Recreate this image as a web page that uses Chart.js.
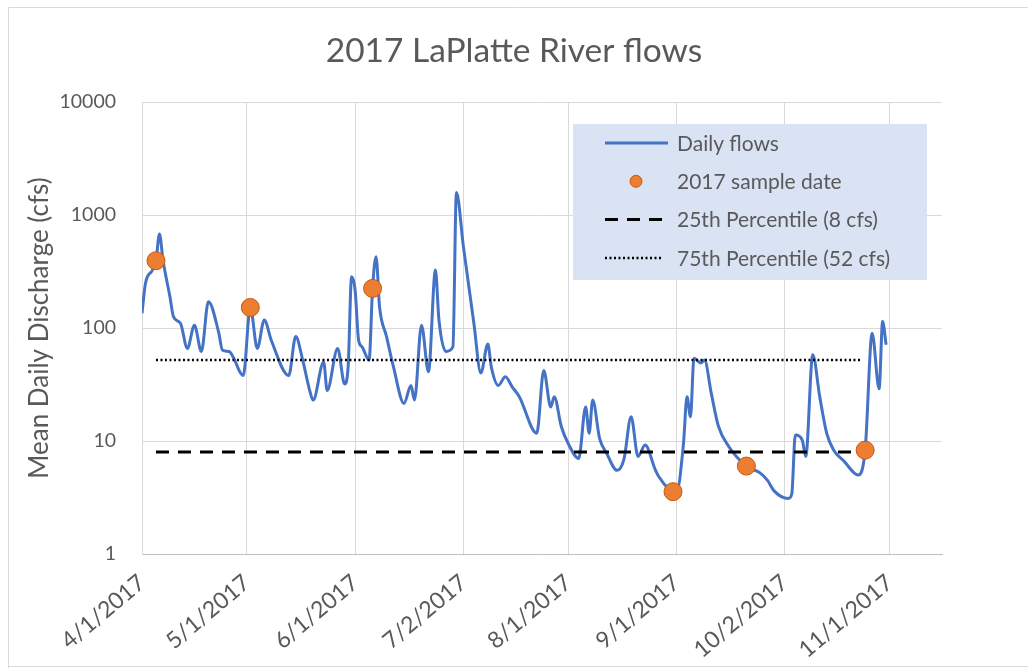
<!DOCTYPE html>
<html>
<head>
<meta charset="utf-8">
<title>2017 LaPlatte River flows</title>
<script src="https://cdn.jsdelivr.net/npm/chart.js@4.4.1/dist/chart.umd.min.js"></script>
<style>
  html, body { margin: 0; padding: 0; background: #ffffff; }
  #wrap { width: 1028px; height: 668px; position: relative; }
</style>
</head>
<body>
<div id="wrap"><canvas id="flows" width="1028" height="668"></canvas></div>
<script>
// Days are counted from 4/1/2017 (day 0).
const flowDays = [
  0, 1, 3, 4, 5, 6, 8, 9, 11, 13, 15, 17, 19, 22, 23, 25, 26, 29, 31, 33,
  35, 37, 42, 44, 46, 48, 49, 52, 53, 56, 58, 59, 60, 61, 62, 63, 65, 66, 67, 68,
  70, 72, 75, 77, 78, 80, 82, 84, 85, 87, 89, 90, 92, 95, 97, 99, 100, 102, 104, 106,
  108, 113, 115, 117, 118, 120, 122, 125, 127, 128, 129, 131, 133, 136, 138, 140, 142, 144, 147, 148,
  151, 152, 153, 155, 156, 157, 158, 160, 161, 163, 165, 168, 173, 177, 179, 181, 185, 186, 187, 189,
  190, 192, 194, 196, 198, 201, 205, 207, 209, 211, 212, 213
];
const flowValues = [
  135, 249, 326, 394, 680, 400, 189, 126, 110, 66, 106, 62, 171, 90, 64, 62, 56, 38, 152, 66,
  118, 78, 38, 84, 52, 28, 23, 50, 28, 66, 32, 45, 284, 217, 78, 68, 52, 224, 428, 154,
  84, 45, 21.5, 31, 23, 106, 41, 326, 118, 62, 68, 1580, 525, 110, 40, 72, 45, 31, 37, 30,
  24.7, 11.7, 42, 20, 24.7, 13.5, 9.5, 7.0, 20, 11.7, 23, 10.5, 7.8, 5.5, 7.0, 16.4, 7.3, 9.2, 5.5, 4.8,
  3.7, 3.56, 3.5, 9.5, 24.7, 16.4, 54, 49, 52, 26, 13.5, 8.9, 6.0, 5.2, 4.5, 3.6, 3.1, 3.4, 11.3, 10.2,
  7.3, 58, 24.7, 11.7, 8.3, 6.6, 5.0, 8.3, 90, 29, 114, 71
];

const sampleDays = [4, 31, 66, 152, 173, 207];
const sampleValues = [394, 152, 224, 3.56, 6.0, 8.3];

const percentile25 = 8;
const percentile75 = 52;
const percentileSpan = [4, 206];

const tickDays = [0, 30, 61, 92, 122, 153, 184, 214];
const tickLabels = ['4/1/2017', '5/1/2017', '6/1/2017', '7/2/2017', '8/1/2017', '9/1/2017', '10/2/2017', '11/1/2017'];
const yTicks = [1, 10, 100, 1000, 10000];
const lastAxisDay = 229;

const chartTitle = '2017 LaPlatte River flows';
const yAxisTitle = 'Mean Daily Discharge (cfs)';
const seriesLabels = ['Daily flows', '2017 sample date', '25th Percentile (8 cfs)', '75th Percentile (52 cfs)'];

const FONT = 'Lato, "Open Sans", sans-serif';
const TEXT = '#595959';
const GRID = '#d9d9d9';

const toPoints = (xs, ys) => xs.map((x, i) => ({ x: x, y: ys[i] }));

// White background, the thin frame around the chart, and the centred title.
const frame = {
  id: 'frame',
  beforeDraw(chart) {
    const ctx = chart.ctx;
    ctx.save();
    ctx.fillStyle = '#ffffff';
    ctx.fillRect(0, 0, chart.width, chart.height);
    ctx.strokeStyle = GRID;
    ctx.lineWidth = 1;
    ctx.beginPath();
    ctx.moveTo(8.5, chart.height);
    ctx.lineTo(8.5, 7.5);
    ctx.lineTo(chart.width, 7.5);
    ctx.moveTo(8.5, 666.5);
    ctx.lineTo(chart.width, 666.5);
    ctx.stroke();
    ctx.fillStyle = TEXT;
    ctx.font = '33.5px ' + FONT;
    ctx.textAlign = 'center';
    ctx.textBaseline = 'alphabetic';
    ctx.fillText(chartTitle, chart.width / 2, 62);
    ctx.restore();
  }
};

// Legend panel drawn inside the plot area, top right.
const boxLegend = {
  id: 'boxLegend',
  afterDraw(chart) {
    const ctx = chart.ctx;
    const box = { left: 573, top: 124, width: 354, height: 156 };
    ctx.save();
    ctx.fillStyle = '#dae3f3';
    ctx.fillRect(box.left, box.top, box.width, box.height);
    const symL = 605, symR = 668, textX = 677;
    chart.data.datasets.forEach((ds, i) => {
      const y = 143 + i * 38.3;
      ctx.setLineDash([]);
      if (ds.showLine === false) {
        ctx.beginPath();
        ctx.arc((symL + symR) / 2 - 0.5, y, 6, 0, Math.PI * 2);
        ctx.fillStyle = ds.backgroundColor;
        ctx.fill();
        ctx.lineWidth = 1;
        ctx.strokeStyle = ds.borderColor;
        ctx.stroke();
      } else {
        ctx.beginPath();
        ctx.strokeStyle = ds.borderColor;
        ctx.lineWidth = ds.borderWidth;
        ctx.setLineDash(ds.borderDash || []);
        ctx.moveTo(symL, y);
        ctx.lineTo(ds.borderDash ? 662 : symR, y);
        ctx.stroke();
      }
      ctx.setLineDash([]);
      ctx.fillStyle = TEXT;
      ctx.font = '21px ' + FONT;
      ctx.textBaseline = 'middle';
      ctx.textAlign = 'left';
      ctx.fillText(ds.label, textX, y + 1);
    });
    ctx.restore();
  }
};

new Chart(document.getElementById('flows'), {
  type: 'line',
  data: {
    datasets: [
      {
        label: seriesLabels[0],
        data: toPoints(flowDays, flowValues),
        borderColor: '#4472c4',
        borderWidth: 3,
        pointRadius: 0,
        cubicInterpolationMode: 'monotone',
        order: 4
      },
      {
        label: seriesLabels[1],
        data: toPoints(sampleDays, sampleValues),
        showLine: false,
        pointRadius: 9,
        pointHoverRadius: 9,
        backgroundColor: '#ed7d31',
        borderColor: '#c55a11',
        borderWidth: 1,
        order: 1
      },
      {
        label: seriesLabels[2],
        data: toPoints(percentileSpan, [percentile25, percentile25]),
        borderColor: '#000000',
        borderWidth: 3,
        borderDash: [13, 9],
        pointRadius: 0,
        order: 3
      },
      {
        label: seriesLabels[3],
        data: toPoints(percentileSpan, [percentile75, percentile75]),
        borderColor: '#000000',
        borderWidth: 2.5,
        borderDash: [2, 2.5],
        pointRadius: 0,
        order: 2
      }
    ]
  },
  options: {
    responsive: false,
    animation: false,
    devicePixelRatio: 1,
    layout: { padding: { left: 0, right: 86, top: 102, bottom: 0 } },
    plugins: {
      legend: { display: false },
      tooltip: { enabled: false },
      title: { display: false }
    },
    scales: {
      x: {
        type: 'linear',
        min: 0,
        max: lastAxisDay,
        afterBuildTicks: (s) => { s.ticks = tickDays.map(v => ({ value: v })); },
        afterFit: (s) => { s.height = 114; },
        ticks: {
          autoSkip: false,
          minRotation: 40,
          maxRotation: 40,
          padding: 15,
          color: TEXT,
          font: { family: FONT, size: 23 },
          callback: (v) => tickLabels[tickDays.indexOf(v)]
        },
        grid: { color: GRID, lineWidth: 1, drawTicks: false },
        border: { color: '#bfbfbf', width: 1 }
      },
      y: {
        type: 'logarithmic',
        min: 1,
        max: 10000,
        afterBuildTicks: (s) => { s.ticks = yTicks.map(v => ({ value: v })); },
        afterFit: (s) => { s.width = 142; },
        ticks: {
          padding: 26,
          color: TEXT,
          font: { family: FONT, size: 19.5 },
          callback: (v) => String(v)
        },
        grid: { color: GRID, lineWidth: 1, drawTicks: false },
        border: { color: GRID, width: 1 },
        title: {
          display: true,
          text: yAxisTitle,
          color: TEXT,
          font: { family: FONT, size: 26 },
          padding: { top: 24, bottom: 0 }
        }
      }
    }
  },
  plugins: [frame, boxLegend]
});
</script>
</body>
</html>
